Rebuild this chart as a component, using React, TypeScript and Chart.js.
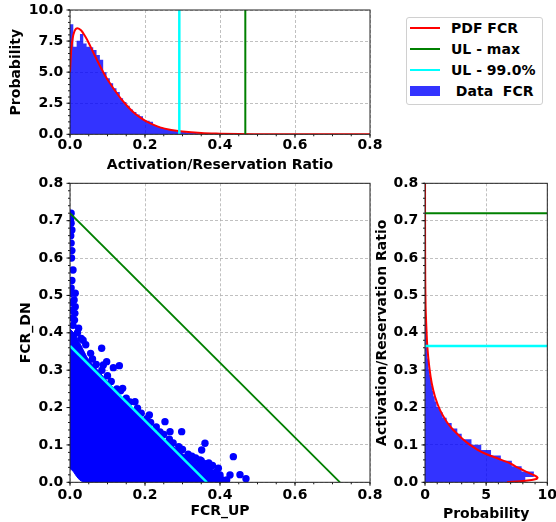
import React, { useEffect, useRef } from 'react';
import { Chart, registerables } from 'chart.js';

Chart.register(...registerables);

// ---------------- Data ----------------
// Top panel: histogram of the Activation/Reservation ratio (density)
const topBinWidth = 0.00885;
const topHist = [
  8.86, 7.05, 7.53, 8.07, 7.3, 7.05, 7.0, 6.78, 6.38, 6.0,
  5.0, 4.5, 4.1, 3.7, 3.4, 2.9, 2.6, 2.3, 2.0, 1.8,
  1.6, 1.45, 1.15, 1.1, 1.0, 0.75, 0.62, 0.55, 0.48, 0.4,
  0.35, 0.3, 0.25, 0.22, 0.18, 0.15, 0.12, 0.1, 0.08, 0.07,
  0.06, 0.05, 0.04, 0.03, 0.03, 0.02, 0.02, 0.015, 0.01, 0.01,
  0.01, 0.005, 0.005,
];
// Top panel: fitted PDF
const topPdfX = [0, 0.003, 0.007, 0.012, 0.02, 0.03, 0.04, 0.05, 0.065, 0.08, 0.095, 0.11, 0.125, 0.14, 0.155, 0.17, 0.185, 0.2, 0.22, 0.24, 0.27, 0.3, 0.35, 0.4, 0.45, 0.5, 0.6, 0.7, 0.8];
const topPdfY = [5.0, 6.7, 7.7, 8.3, 8.53, 8.35, 7.9, 7.35, 6.4, 5.5, 4.65, 3.95, 3.3, 2.7, 2.2, 1.75, 1.4, 1.1, 0.8, 0.56, 0.35, 0.22, 0.1, 0.05, 0.02, 0.01, 0.003, 0.001, 0];
const topUlMax = 0.4675;
const topUl99 = 0.2915;

// Bottom-left: FCR_UP vs FCR_DN
// dense cloud outline
const blobX = [0.036, 0.41, 0.40, 0.38, 0.36, 0.34, 0.32, 0.30, 0.28, 0.26, 0.24, 0.22, 0.20, 0.18, 0.16, 0.14, 0.12, 0.10, 0.08, 0.06, 0.045, 0.035, 0.025, 0.015, 0.0, 0.0, 0.008, 0.018, 0.026, 0.036];
const blobY = [0.0, 0.0, 0.018, 0.035, 0.045, 0.055, 0.065, 0.077, 0.092, 0.108, 0.125, 0.145, 0.165, 0.185, 0.205, 0.226, 0.248, 0.27, 0.293, 0.316, 0.335, 0.355, 0.375, 0.395, 0.41, 0.037, 0.03, 0.015, 0.006, 0.0];
// individual samples around the edge of the cloud
const fcrUp = [
  0.003, 0.002, 0.003, 0.005, 0.002, 0.003, 0.005, 0.004, 0.008, 0.005, 0.003, 0.004, 0.014, 0.011, 0.014, 0.013, 0.012, 0.023, 0.008, 0.005, 0.003, 0.006,
  0.02, 0.03, 0.042, 0.055, 0.07, 0.1, 0.125, 0.15, 0.18, 0.205, 0.23, 0.25, 0.275, 0.3, 0.315, 0.335, 0.36, 0.38, 0.39, 0.4, 0.41,
  0.035, 0.06, 0.085, 0.11, 0.135, 0.16, 0.19, 0.215, 0.24, 0.265, 0.29, 0.325, 0.35, 0.37, 0.385, 0.395,
  0.0844, 0.0889, 0.0978, 0.1156, 0.1316, 0.1404, 0.1733, 0.2116, 0.2533, 0.2667, 0.2978, 0.2933, 0.32, 0.3467, 0.3511, 0.36, 0.3733, 0.3956, 0.4, 0.4178, 0.4267, 0.4356, 0.4533, 0.4693,
];
const fcrDn = [
  0.72, 0.705, 0.693, 0.675, 0.66, 0.64, 0.62, 0.6, 0.568, 0.54, 0.52, 0.506, 0.506, 0.488, 0.47, 0.452, 0.434, 0.412, 0.42, 0.46, 0.48, 0.44,
  0.40, 0.385, 0.368, 0.345, 0.315, 0.285, 0.25, 0.225, 0.198, 0.17, 0.148, 0.128, 0.105, 0.088, 0.075, 0.065, 0.05, 0.045, 0.028, 0.012, 0.005,
  0.38, 0.33, 0.3, 0.27, 0.245, 0.215, 0.185, 0.16, 0.135, 0.115, 0.095, 0.07, 0.058, 0.052, 0.015, 0.005,
  0.3585, 0.3138, 0.3228, 0.3067, 0.3121, 0.2514, 0.2157, 0.18, 0.1623, 0.1355, 0.1355, 0.0909, 0.0686, 0.0597, 0.0865, 0.1043, 0.0418, 0.0374, 0.0196, 0.0062, 0.0196, 0.0686, 0.0205, 0.0098,
];
const scatterUlMax = 0.72;
const scatterUl99 = 0.365;

// Right panel: histogram of FCR_DN ratio (horizontal)
const rightBinWidth = 0.0144;
const rightHist = [
  8.2, 8.9, 7.9, 7.1, 6.2, 5.4, 4.6, 3.8, 3.0, 2.64,
  2.18, 1.77, 1.44, 1.23, 0.95, 0.8, 0.68, 0.58, 0.5, 0.43,
  0.37, 0.32, 0.27, 0.23, 0.2, 0.17, 0.14, 0.12, 0.1, 0.085,
  0.07, 0.06, 0.05, 0.04, 0.035, 0.03, 0.025, 0.02, 0.018, 0.015,
  0.012, 0.01, 0.009, 0.008, 0.006, 0.005, 0.004, 0.004, 0.003, 0.003,
];
const rightPdfX = [6.7, 8.2, 9.1, 9.2, 8.9, 8.3, 7.6, 6.95, 6.0, 5.04, 4.3, 3.68, 3.1, 2.59, 2.15, 1.77, 1.23, 0.82, 0.55, 0.35, 0.19, 0.11, 0.05, 0.02, 0.008, 0.003];
const rightPdfY = [0.0, 0.004, 0.009, 0.013, 0.019, 0.028, 0.039, 0.051, 0.063, 0.075, 0.087, 0.1, 0.115, 0.131, 0.146, 0.162, 0.193, 0.229, 0.265, 0.309, 0.363, 0.416, 0.47, 0.55, 0.65, 0.8];
const rightUlMax = 0.72;
const rightUl99 = 0.365;

const legendLabels = ['PDF FCR', 'UL - max', 'UL - 99.0%', ' Data  FCR'];

// ---------------- Styling ----------------
const RED = '#ff0000';
const GREEN = '#008000';
const CYAN = '#00ffff';
const BLUE = '#0000ff';
const BAR = 'rgba(0,0,255,0.8)';
const FONT = { family: "'DejaVu Sans', sans-serif", size: 14, weight: 'bold' as const };

Chart.defaults.font.family = FONT.family;
Chart.defaults.font.size = 14;
Chart.defaults.font.weight = 'bold';
Chart.defaults.color = '#000';

// histogram outline (bin edges -> step polygon), value along `valueAxis`
function histOutline(values: number[], width: number, horizontal: boolean) {
  const pts: { x: number; y: number }[] = [];
  const push = (pos: number, val: number) => pts.push(horizontal ? { x: val, y: pos } : { x: pos, y: val });
  push(0, 0);
  values.forEach((v, i) => {
    push(i * width, v);
    push((i + 1) * width, v);
  });
  push(values.length * width, 0);
  return pts;
}

const axesDecor = {
  id: 'axesDecor',
  afterDatasetsDraw(chart: any, _args: any, opts: any) {
    const { ctx, chartArea: a, scales } = chart;
    const xs = scales.x;
    const ys = scales.y;
    ctx.save();
    ctx.strokeStyle = '#000';
    ctx.lineWidth = 0.9;
    ctx.beginPath();
    const xTicks = (step: number, len: number) => {
      const n = Math.round((xs.max - xs.min) / step);
      for (let i = 0; i <= n; i++) {
        const p = xs.getPixelForValue(xs.min + i * step);
        ctx.moveTo(p, a.bottom);
        ctx.lineTo(p, a.bottom + len);
      }
    };
    const yTicks = (step: number, len: number) => {
      const n = Math.round((ys.max - ys.min) / step);
      for (let i = 0; i <= n; i++) {
        const p = ys.getPixelForValue(ys.min + i * step);
        ctx.moveTo(a.left, p);
        ctx.lineTo(a.left - len, p);
      }
    };
    xTicks(opts.xMinor, 2);
    xTicks(opts.xMajor, 3.5);
    yTicks(opts.yMinor, 2);
    yTicks(opts.yMajor, 3.5);
    ctx.stroke();
    ctx.lineWidth = 1;
    ctx.strokeStyle = '#222';
    ctx.strokeRect(a.left, a.top, a.right - a.left, a.bottom - a.top);
    ctx.restore();
  },
};

function xAxis(min: number, max: number, step: number, dec: number, title: string, titlePad: number, labelPad: number, height: number) {
  return {
    type: 'linear',
    min,
    max,
    offset: false,
    grid: { color: '#b0b0b0', lineWidth: 0.8, drawTicks: false, offset: false },
    border: { display: false, dash: [3, 2] },
    ticks: {
      stepSize: step,
      padding: labelPad,
      autoSkip: false,
      maxRotation: 0,
      color: '#000',
      font: FONT,
      callback: (v: any) => Number(v).toFixed(dec),
    },
    title: { display: true, text: title, color: '#000', font: FONT, padding: { top: 0, bottom: titlePad } },
    afterFit: (s: any) => {
      s.height = height;
      s.paddingLeft = 0;
      s.paddingRight = 0;
    },
  };
}

function yAxis(min: number, max: number, step: number, dec: number, title: string, titlePad: number, labelPad: number, width: number) {
  return {
    type: 'linear',
    min,
    max,
    offset: false,
    grid: { color: '#b0b0b0', lineWidth: 0.8, drawTicks: false, offset: false },
    border: { display: false, dash: [3, 2] },
    ticks: {
      stepSize: step,
      padding: labelPad,
      autoSkip: false,
      color: '#000',
      font: FONT,
      callback: (v: any) => Number(v).toFixed(dec),
    },
    title: { display: true, text: title, color: '#000', font: FONT, padding: { top: titlePad, bottom: 0 } },
    afterFit: (s: any) => {
      s.width = width;
      s.paddingTop = 0;
      s.paddingBottom = 0;
    },
  };
}

function baseOptions(padTop: number, padRight: number, decor: any, scales: any) {
  return {
    responsive: false,
    maintainAspectRatio: false,
    animation: false,
    events: [],
    layout: { padding: { top: padTop, right: padRight, left: 0, bottom: 0 } },
    plugins: { legend: { display: false }, tooltip: { enabled: false }, axesDecor: decor },
    scales,
  };
}

function topConfig(): any {
  return {
    type: 'scatter',
    data: {
      datasets: [
        {
          type: 'line', label: 'UL - 99.0%',
          data: [{ x: topUl99, y: 0 }, { x: topUl99, y: 10 }],
          borderColor: CYAN, borderWidth: 2.5, pointRadius: 0, order: 0,
        },
        {
          type: 'line', label: 'UL - max',
          data: [{ x: topUlMax, y: 0 }, { x: topUlMax, y: 10 }],
          borderColor: GREEN, borderWidth: 2, pointRadius: 0, order: 1,
        },
        {
          type: 'line', label: 'PDF FCR',
          data: topPdfX.map((x, i) => ({ x, y: topPdfY[i] })),
          borderColor: RED, borderWidth: 2, pointRadius: 0,
          cubicInterpolationMode: 'monotone', order: 2,
        },
        {
          type: 'line', label: legendLabels[3],
          data: histOutline(topHist, topBinWidth, false),
          backgroundColor: BAR, borderColor: 'transparent', borderWidth: 1, pointRadius: 0,
          tension: 0, fill: 'shape', order: 3,
        },
      ],
    },
    options: baseOptions(10, 20, { xMinor: 0.05, xMajor: 0.2, yMinor: 0.5, yMajor: 2.5 }, {
      x: xAxis(0, 0.8, 0.2, 1, 'Activation/Reservation Ratio', 0.8, 2.3, 40.7),
      y: yAxis(0, 10, 2.5, 1, 'Probability', 8.1, 6.7, 70),
    }),
    plugins: [axesDecor],
  };
}

function scatterConfig(): any {
  return {
    type: 'scatter',
    data: {
      datasets: [
        {
          type: 'line', label: 'UL - max',
          data: [{ x: 0, y: scatterUlMax }, { x: scatterUlMax, y: 0 }],
          borderColor: GREEN, borderWidth: 1.8, pointRadius: 0, order: 0,
        },
        {
          type: 'line', label: 'UL - 99.0%',
          data: [{ x: 0, y: scatterUl99 }, { x: scatterUl99, y: 0 }],
          borderColor: CYAN, borderWidth: 2.5, pointRadius: 0, order: 1,
        },
        {
          type: 'scatter', label: 'samples',
          data: fcrUp.map((x, i) => ({ x, y: fcrDn[i] })),
          pointRadius: 3.7, pointBackgroundColor: BLUE, pointBorderWidth: 0, clip: 0, order: 2,
        },
        {
          type: 'line', label: 'cloud',
          data: blobX.map((x, i) => ({ x, y: blobY[i] })),
          borderColor: BLUE, backgroundColor: BLUE, borderWidth: 1, pointRadius: 0,
          tension: 0, fill: 'shape', clip: 0, order: 3,
        },
      ],
    },
    options: baseOptions(8.3, 20, { xMinor: 0.05, xMajor: 0.2, yMinor: 0.02, yMajor: 0.1 }, {
      x: xAxis(0, 0.8, 0.2, 1, 'FCR_UP', 2.3, 4.3, 39.7),
      y: yAxis(0, 0.8, 0.1, 1, 'FCR_DN', 18.2, 6.7, 70),
    }),
    plugins: [axesDecor],
  };
}

function rightConfig(): any {
  return {
    type: 'scatter',
    data: {
      datasets: [
        {
          type: 'line', label: 'UL - 99.0%',
          data: [{ x: 0, y: rightUl99 }, { x: 10, y: rightUl99 }],
          borderColor: CYAN, borderWidth: 2.5, pointRadius: 0, order: 0,
        },
        {
          type: 'line', label: 'UL - max',
          data: [{ x: 0, y: rightUlMax }, { x: 10, y: rightUlMax }],
          borderColor: GREEN, borderWidth: 2, pointRadius: 0, order: 1,
        },
        {
          type: 'line', label: 'PDF FCR',
          data: rightPdfX.map((x, i) => ({ x, y: rightPdfY[i] })),
          borderColor: RED, borderWidth: 2, pointRadius: 0, tension: 0.3, order: 2,
        },
        {
          type: 'line', label: legendLabels[3],
          data: histOutline(rightHist, rightBinWidth, true),
          backgroundColor: BAR, borderColor: 'transparent', borderWidth: 1, pointRadius: 0,
          tension: 0, fill: 'shape', order: 3,
        },
      ],
    },
    options: baseOptions(8.3, 8.7, { xMinor: 1, xMajor: 5, yMinor: 0.02, yMajor: 0.1 }, {
      x: xAxis(0, 10, 5, 0, 'Probability', -0.5, 4.8, 39.7),
      y: yAxis(0, 0.8, 0.1, 1, 'Activation/Reservation Ratio', 4.1, 6.7, 55),
    }),
    plugins: [axesDecor],
  };
}

const legendRows = [
  { label: legendLabels[0], color: RED, patch: false, cy: 28.3 },
  { label: legendLabels[1], color: GREEN, patch: false, cy: 49.3 },
  { label: legendLabels[2], color: CYAN, patch: false, cy: 70 },
  { label: legendLabels[3], color: BAR, patch: true, cy: 90.7 },
];

export default function App() {
  const topRef = useRef<HTMLCanvasElement | null>(null);
  const midRef = useRef<HTMLCanvasElement | null>(null);
  const rightRef = useRef<HTMLCanvasElement | null>(null);

  useEffect(() => {
    const charts: Chart[] = [];
    if (topRef.current) charts.push(new Chart(topRef.current, topConfig()));
    if (midRef.current) charts.push(new Chart(midRef.current, scatterConfig()));
    if (rightRef.current) charts.push(new Chart(rightRef.current, rightConfig()));
    return () => charts.forEach((c) => c.destroy());
  }, []);

  return (
    <div style={{ position: 'absolute', left: 0, top: 0, width: 556, height: 522, background: '#fff', overflow: 'hidden' }}>
      <canvas ref={topRef} width={390} height={175} style={{ position: 'absolute', left: 0, top: 0 }} />
      <canvas ref={midRef} width={390} height={347} style={{ position: 'absolute', left: 0, top: 175 }} />
      <canvas ref={rightRef} width={186} height={347} style={{ position: 'absolute', left: 370, top: 175 }} />
      <div
        style={{
          position: 'absolute', left: 405.5, top: 16.5, width: 135, height: 86.5,
          border: '1px solid #d0d0d0', borderRadius: 3, background: 'rgba(255,255,255,0.8)',
        }}
      />
      {legendRows.map((r) => (
        <div
          key={r.label}
          style={{
            position: 'absolute', left: 410, top: r.cy - 10, height: 20, display: 'flex', alignItems: 'center',
            fontFamily: FONT.family, fontWeight: 'bold', fontSize: 14, color: '#000', whiteSpace: 'pre',
          }}
        >
          <div style={{ width: 30, height: r.patch ? 10 : 2, background: r.color, marginRight: 11 }} />
          <span>{r.label}</span>
        </div>
      ))}
    </div>
  );
}
